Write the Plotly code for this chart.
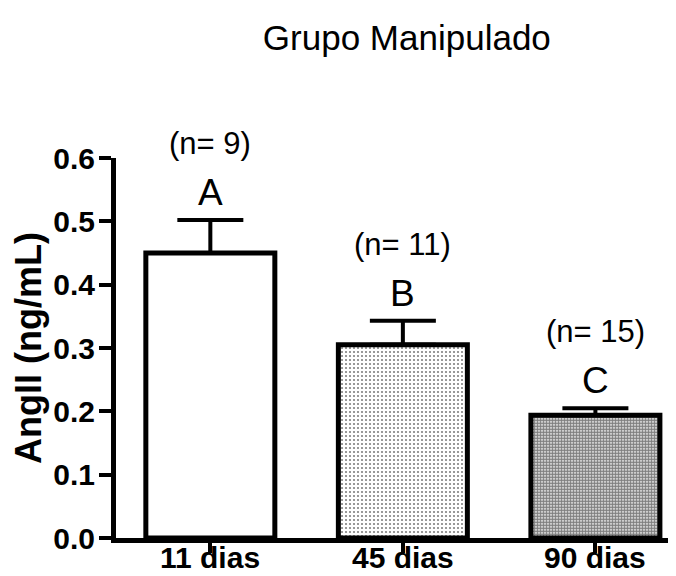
import plotly.graph_objects as go

grupos = ["11 dias", "45 dias", "90 dias"]
media = [0.450, 0.305, 0.194]
epm = [0.052, 0.038, 0.011]
n_animais = [9, 11, 15]
letras = ["A", "B", "C"]

FONTE = "Liberation Sans, Arial, sans-serif"

fig = go.Figure()

fig.add_trace(go.Bar(
    x=grupos, y=media,
    width=0.67,
    marker=dict(
        color="white",
        line=dict(color="black", width=5),
        pattern=dict(shape=["", ".", "."], size=[4, 4, 3], solidity=[0.1, 0.22, 0.72],
                     fgcolor="black", bgcolor="white", fillmode="overlay"),
    ),
    error_y=dict(type="data", symmetric=False, array=epm, arrayminus=[0, 0, 0],
                 color="black", thickness=4, width=33),
    showlegend=False,
))

for g, m, e, n, l in zip(grupos, media, epm, n_animais, letras):
    fig.add_annotation(x=g, y=m + e, text=l, showarrow=False, yanchor="bottom",
                       yshift=5, font=dict(family=FONTE, size=37, color="black"))
    fig.add_annotation(x=g, y=m + e, text="(n= %d)" % n, showarrow=False, yanchor="bottom",
                       yshift=57, font=dict(family=FONTE, size=31, color="black"))
    # rótulos do eixo x como anotações, encostados na borda de baixo
    fig.add_annotation(x=g, y=0, text="<b>%s</b>" % g, showarrow=False, yanchor="bottom",
                       yshift=-38, font=dict(family=FONTE, size=30, color="black"))

fig.update_layout(
    width=676, height=576,
    plot_bgcolor="white", paper_bgcolor="white",
    margin=dict(l=108, r=1, t=150, b=46),
    title=dict(text="Grupo Manipulado", x=0.59, xanchor="center", y=0.948, yanchor="middle",
               font=dict(family=FONTE, size=35, color="black")),
    font=dict(family=FONTE, color="black"),
)
fig.update_xaxes(
    range=[-0.49, 2.455], showline=True, linewidth=5, linecolor="black",
    ticks="outside", ticklen=10, tickwidth=4, tickcolor="black", showticklabels=False,
    showgrid=False, zeroline=False, automargin=False,
)
fig.update_yaxes(
    range=[0, 0.6], dtick=0.1, tickformat=".1f", showline=True, linewidth=5, linecolor="black",
    ticks="outside", ticklen=12, tickwidth=4, tickcolor="black", ticklabelstandoff=-2,
    tickfont=dict(family=FONTE, size=30, color="black", weight="bold"),
    title=dict(text="AngII (ng/mL)", font=dict(family=FONTE, size=36, color="black", weight="bold"),
               standoff=2),
    showgrid=False, zeroline=False, automargin=False,
)

fig.write_html("out.html")
